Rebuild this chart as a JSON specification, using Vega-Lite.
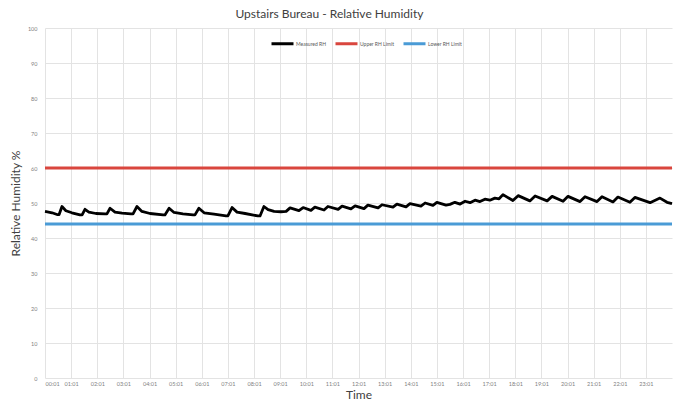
{
  "$schema": "https://vega.github.io/schema/vega-lite/v6.json",
  "width": 627,
  "height": 350,
  "autosize": {"type": "none"},
  "padding": {"left": 45, "top": 28, "right": 16, "bottom": 27},
  "background": "white",
  "title": {
    "text": "Upstairs Bureau - Relative Humidity",
    "anchor": "start",
    "dx": 226,
    "offset": 5,
    "font": "Lato",
    "fontSize": 12,
    "fontWeight": "normal",
    "color": "#404040"
  },
  "config": {
    "view": {"stroke": null},
    "font": "Lato"
  },
  "data": {
    "values": [
      {"t": 0.00, "v": 47.6, "s": "Measured RH"},
      {"t": 0.27, "v": 47.2, "s": "Measured RH"},
      {"t": 0.46, "v": 46.7, "s": "Measured RH"},
      {"t": 0.54, "v": 46.7, "s": "Measured RH"},
      {"t": 0.65, "v": 49.0, "s": "Measured RH"},
      {"t": 0.80, "v": 47.8, "s": "Measured RH"},
      {"t": 1.03, "v": 47.2, "s": "Measured RH"},
      {"t": 1.34, "v": 46.6, "s": "Measured RH"},
      {"t": 1.42, "v": 46.6, "s": "Measured RH"},
      {"t": 1.53, "v": 48.2, "s": "Measured RH"},
      {"t": 1.68, "v": 47.4, "s": "Measured RH"},
      {"t": 1.95, "v": 47.0, "s": "Measured RH"},
      {"t": 2.30, "v": 46.9, "s": "Measured RH"},
      {"t": 2.37, "v": 46.9, "s": "Measured RH"},
      {"t": 2.49, "v": 48.5, "s": "Measured RH"},
      {"t": 2.68, "v": 47.4, "s": "Measured RH"},
      {"t": 2.95, "v": 47.1, "s": "Measured RH"},
      {"t": 3.29, "v": 46.9, "s": "Measured RH"},
      {"t": 3.37, "v": 46.9, "s": "Measured RH"},
      {"t": 3.52, "v": 49.0, "s": "Measured RH"},
      {"t": 3.71, "v": 47.6, "s": "Measured RH"},
      {"t": 4.02, "v": 47.0, "s": "Measured RH"},
      {"t": 4.52, "v": 46.6, "s": "Measured RH"},
      {"t": 4.59, "v": 46.6, "s": "Measured RH"},
      {"t": 4.75, "v": 48.5, "s": "Measured RH"},
      {"t": 4.94, "v": 47.3, "s": "Measured RH"},
      {"t": 5.28, "v": 46.9, "s": "Measured RH"},
      {"t": 5.67, "v": 46.6, "s": "Measured RH"},
      {"t": 5.74, "v": 46.6, "s": "Measured RH"},
      {"t": 5.89, "v": 48.5, "s": "Measured RH"},
      {"t": 6.09, "v": 47.2, "s": "Measured RH"},
      {"t": 6.47, "v": 46.8, "s": "Measured RH"},
      {"t": 6.93, "v": 46.3, "s": "Measured RH"},
      {"t": 7.00, "v": 46.3, "s": "Measured RH"},
      {"t": 7.16, "v": 48.7, "s": "Measured RH"},
      {"t": 7.35, "v": 47.4, "s": "Measured RH"},
      {"t": 7.66, "v": 47.0, "s": "Measured RH"},
      {"t": 8.15, "v": 46.3, "s": "Measured RH"},
      {"t": 8.23, "v": 46.3, "s": "Measured RH"},
      {"t": 8.38, "v": 49.0, "s": "Measured RH"},
      {"t": 8.54, "v": 48.1, "s": "Measured RH"},
      {"t": 8.77, "v": 47.6, "s": "Measured RH"},
      {"t": 9.03, "v": 47.5, "s": "Measured RH"},
      {"t": 9.23, "v": 47.6, "s": "Measured RH"},
      {"t": 9.38, "v": 48.6, "s": "Measured RH"},
      {"t": 9.72, "v": 47.8, "s": "Measured RH"},
      {"t": 9.88, "v": 48.7, "s": "Measured RH"},
      {"t": 10.18, "v": 47.9, "s": "Measured RH"},
      {"t": 10.33, "v": 48.8, "s": "Measured RH"},
      {"t": 10.68, "v": 48.0, "s": "Measured RH"},
      {"t": 10.83, "v": 49.0, "s": "Measured RH"},
      {"t": 11.22, "v": 48.2, "s": "Measured RH"},
      {"t": 11.37, "v": 49.1, "s": "Measured RH"},
      {"t": 11.71, "v": 48.3, "s": "Measured RH"},
      {"t": 11.87, "v": 49.2, "s": "Measured RH"},
      {"t": 12.21, "v": 48.4, "s": "Measured RH"},
      {"t": 12.36, "v": 49.4, "s": "Measured RH"},
      {"t": 12.75, "v": 48.6, "s": "Measured RH"},
      {"t": 12.90, "v": 49.5, "s": "Measured RH"},
      {"t": 13.32, "v": 48.8, "s": "Measured RH"},
      {"t": 13.47, "v": 49.7, "s": "Measured RH"},
      {"t": 13.82, "v": 48.9, "s": "Measured RH"},
      {"t": 13.97, "v": 49.8, "s": "Measured RH"},
      {"t": 14.39, "v": 49.1, "s": "Measured RH"},
      {"t": 14.55, "v": 50.0, "s": "Measured RH"},
      {"t": 14.85, "v": 49.3, "s": "Measured RH"},
      {"t": 15.00, "v": 50.2, "s": "Measured RH"},
      {"t": 15.35, "v": 49.4, "s": "Measured RH"},
      {"t": 15.50, "v": 49.6, "s": "Measured RH"},
      {"t": 15.69, "v": 50.2, "s": "Measured RH"},
      {"t": 15.89, "v": 49.7, "s": "Measured RH"},
      {"t": 16.08, "v": 50.5, "s": "Measured RH"},
      {"t": 16.27, "v": 50.1, "s": "Measured RH"},
      {"t": 16.46, "v": 50.8, "s": "Measured RH"},
      {"t": 16.65, "v": 50.4, "s": "Measured RH"},
      {"t": 16.84, "v": 51.1, "s": "Measured RH"},
      {"t": 17.03, "v": 50.8, "s": "Measured RH"},
      {"t": 17.22, "v": 51.4, "s": "Measured RH"},
      {"t": 17.38, "v": 51.2, "s": "Measured RH"},
      {"t": 17.53, "v": 52.4, "s": "Measured RH"},
      {"t": 17.91, "v": 50.7, "s": "Measured RH"},
      {"t": 18.11, "v": 52.1, "s": "Measured RH"},
      {"t": 18.56, "v": 50.6, "s": "Measured RH"},
      {"t": 18.76, "v": 52.0, "s": "Measured RH"},
      {"t": 19.22, "v": 50.6, "s": "Measured RH"},
      {"t": 19.41, "v": 51.9, "s": "Measured RH"},
      {"t": 19.83, "v": 50.5, "s": "Measured RH"},
      {"t": 20.02, "v": 51.9, "s": "Measured RH"},
      {"t": 20.48, "v": 50.4, "s": "Measured RH"},
      {"t": 20.67, "v": 51.8, "s": "Measured RH"},
      {"t": 21.13, "v": 50.4, "s": "Measured RH"},
      {"t": 21.32, "v": 51.8, "s": "Measured RH"},
      {"t": 21.74, "v": 50.3, "s": "Measured RH"},
      {"t": 21.93, "v": 51.7, "s": "Measured RH"},
      {"t": 22.39, "v": 50.2, "s": "Measured RH"},
      {"t": 22.58, "v": 51.6, "s": "Measured RH"},
      {"t": 23.16, "v": 50.1, "s": "Measured RH"},
      {"t": 23.54, "v": 51.4, "s": "Measured RH"},
      {"t": 23.81, "v": 50.2, "s": "Measured RH"},
      {"t": 24.00, "v": 49.8, "s": "Measured RH"},
      {"t": 0.00, "v": 60, "s": "Upper RH Limit"},
      {"t": 24.00, "v": 60, "s": "Upper RH Limit"},
      {"t": 0.00, "v": 44, "s": "Lower RH Limit"},
      {"t": 24.00, "v": 44, "s": "Lower RH Limit"}
    ]
  },
  "mark": {"type": "line", "strokeWidth": 2.8, "strokeJoin": "round"},
  "encoding": {
    "x": {
      "field": "t",
      "type": "quantitative",
      "scale": {"domain": [0, 24], "nice": false, "zero": false},
      "axis": {
        "title": "Time",
        "values": [0,1,2,3,4,5,6,7,8,9,10,11,12,13,14,15,16,17,18,19,20,21,22,23],
        "labelExpr": "(datum.value < 10 ? '0' : '') + datum.value + ':01'",
        "labelFontSize": 5.5,
        "labelColor": "#7f7f7f",
        "labelPadding": 3,
        "ticks": false,
        "domain": false,
        "grid": true,
        "gridColor": "#e3e3e3",
        "gridWidth": 1,
        "titleFont": "Lato",
        "titleFontSize": 12,
        "titleFontWeight": "normal",
        "titleColor": "#404040",
        "titlePadding": 3,
        "labelOverlap": false
      }
    },
    "y": {
      "field": "v",
      "type": "quantitative",
      "scale": {"domain": [0, 100], "nice": false},
      "axis": {
        "title": "Relative Humidity %",
        "values": [0,10,20,30,40,50,60,70,80,90,100],
        "labelFontSize": 5.5,
        "labelColor": "#7f7f7f",
        "labelPadding": 8,
        "ticks": false,
        "domain": false,
        "grid": true,
        "gridColor": "#e3e3e3",
        "gridWidth": 1,
        "titleFont": "Lato",
        "titleFontSize": 12,
        "titleFontWeight": "normal",
        "titleColor": "#404040",
        "titlePadding": 5
      }
    },
    "color": {
      "field": "s",
      "type": "nominal",
      "scale": {
        "domain": ["Measured RH", "Upper RH Limit", "Lower RH Limit"],
        "range": ["#000000", "#d9463e", "#4a9bd6"]
      },
      "legend": {
        "title": null,
        "orient": "none",
        "direction": "horizontal",
        "legendX": 225,
        "legendY": 3,
        "symbolType": "stroke",
        "symbolStrokeWidth": 3,
        "symbolSize": 484,
        "labelFontSize": 5,
        "labelColor": "#595959",
        "labelOffset": 1,
        "columnPadding": 2
      }
    }
  }
}
